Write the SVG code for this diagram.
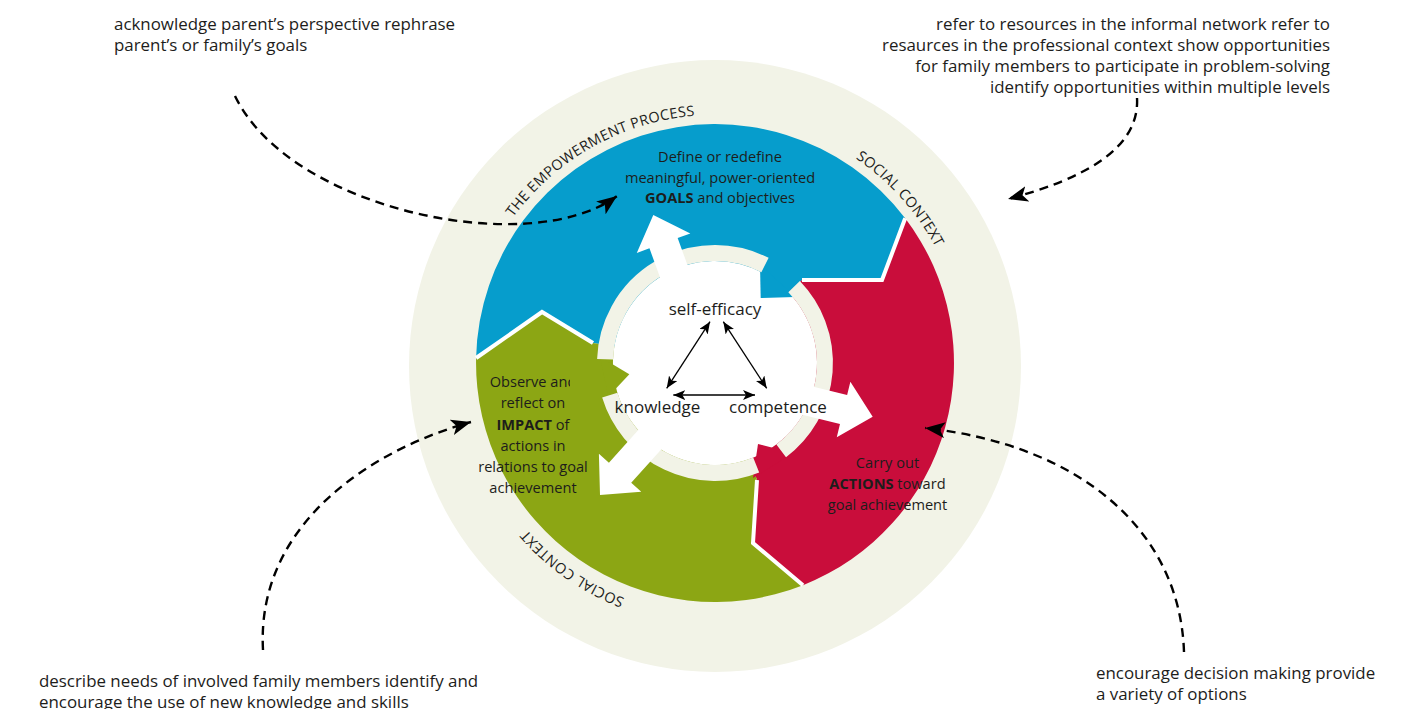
<svg xmlns="http://www.w3.org/2000/svg" width="1410" height="709" viewBox="0 0 1410 709">
  <style>
    text { font-family: "Open Sans", "Noto Sans", "DejaVu Sans", sans-serif; fill: #1d1d1b; }
    .note { font-size: 16.9px; }
    .band { font-size: 14.6px; text-anchor: middle; }
    .core { font-size: 17px; text-anchor: middle; }
    .ctx { font-size: 14.5px; letter-spacing: 0.3px; text-anchor: middle; }
    .strong { font-weight: 700; }
    .sep { fill: none; stroke: #fff; stroke-width: 4; stroke-linejoin: miter; }
    .ring { fill: none; stroke: #f2f3e7; stroke-width: 16; }
    .dash { fill: none; stroke: #000; stroke-width: 2.4; stroke-dasharray: 9 6; marker-end: url(#head); }
    .dbl { fill: none; stroke: #000; stroke-width: 1.3; marker-start: url(#tip); marker-end: url(#tip); }
  </style>
  <defs>
    <!-- broad white arrow, tip at the origin, pointing along +x -->
    <polygon id="wa" points="0,0 -30,-28.5 -30,-15 -95,-15 -95,15 -30,15 -30,28.5" fill="#fff"/>
    <marker id="head" viewBox="0 0 20 16" refX="20" refY="8" markerWidth="20" markerHeight="16" markerUnits="userSpaceOnUse" orient="auto">
      <path d="M0,0 L20,8 L0,16 L5,8 Z" fill="#000"/>
    </marker>
    <marker id="tip" viewBox="0 0 12 10" refX="12" refY="5" markerWidth="12" markerHeight="10" markerUnits="userSpaceOnUse" orient="auto-start-reverse">
      <path d="M0,0 L12,5 L0,10 L3,5 Z" fill="#000"/>
    </marker>
    <!-- baseline circle for the ring captions, clockwise from the bottom -->
    <path id="ctxPath" d="M715,615 A250,250 0 1 1 715,115 A250,250 0 1 1 715,615"/>
    <clipPath id="obsClip"><rect x="460" y="360" width="110" height="30"/></clipPath>
  </defs>

  <!-- social context disc -->
  <circle id="social-context" cx="715" cy="366" r="306" fill="#f2f3e7"/>
  <circle cx="715" cy="363" r="102" fill="#fff"/>

  <!-- the three stages of the cycle -->
  <g id="goals">
    <path d="M476.1,358 A239,239 0 0 1 905.2,218.3 L882,280 L802,280 L788.8,292.6 A102,102 0 0 0 614.3,346.5 L593,343 L542,312 Z" fill="#069dcc"/>
  </g>
  <g id="actions">
    <path d="M905.2,218.3 A239,239 0 0 1 803,585.2 L753,543 L757,480 L749.5,459 A102,102 0 0 0 788.8,292.6 L802,280 L882,280 Z" fill="#c90d3b"/>
  </g>
  <g id="impact">
    <path d="M803,585.2 A239,239 0 0 1 476.1,358 L542,312 L593,343 L614.3,346.5 A102,102 0 0 0 749.5,459 L757,480 L753,543 Z" fill="#8ca614"/>
  </g>

  <!-- white seams between the stages -->
  <g id="seams">
    <path class="sep" d="M476.1,358 L542,312 L593,343"/>
    <path class="sep" d="M905.2,218.3 L882,280 L802,280"/>
    <path class="sep" d="M803,585.2 L753,543 L757,480"/>
  </g>

  <!-- inward heads from each stage -->
  <g id="stage-heads">
    <polygon points="760,264 760.7,298 795,297" fill="#069dcc"/>
    <polygon points="758,444 793,453 753,478" fill="#c90d3b"/>
    <polygon points="629.3,374.3 600,356.7 608.3,396.7" fill="#8ca614"/>
  </g>

  <!-- inner light ring -->
  <g id="inner-ring">
    <path class="ring" d="M794.1,286.6 A110,110 0 0 1 781.2,450.8"/>
    <path class="ring" d="M756.2,465 A110,110 0 0 1 609.8,395.2"/>
    <path class="ring" d="M605.1,359.2 A110,110 0 0 1 765,265"/>
  </g>

  <!-- outward white arrows from the core -->
  <g id="core-arrows">
    <use href="#wa" transform="translate(653.3,215) rotate(250)"/>
    <use href="#wa" transform="translate(872.7,416.7) rotate(13.8)"/>
    <use href="#wa" transform="translate(600,495) rotate(132)"/>
  </g>

  <!-- stage labels -->
  <g id="goals-label">
    <text class="band" x="720" y="162">Define or redefine</text>
    <text class="band" x="720" y="183">meaningful, power-oriented</text>
    <text class="band" x="720" y="203"><tspan class="strong">GOALS</tspan> and objectives</text>
  </g>
  <g id="actions-label">
    <text class="band" x="887.5" y="468">Carry out</text>
    <text class="band" x="887.5" y="489"><tspan class="strong">ACTIONS</tspan> toward</text>
    <text class="band" x="887.5" y="510">goal achievement</text>
  </g>
  <g id="impact-label">
    <text class="band" x="533" y="387" clip-path="url(#obsClip)">Observe and</text>
    <text class="band" x="533" y="408">reflect on</text>
    <text class="band" x="533" y="430"><tspan class="strong">IMPACT</tspan> of</text>
    <text class="band" x="533" y="451">actions in</text>
    <text class="band" x="533" y="472">relations to goal</text>
    <text class="band" x="533" y="493">achievement</text>
  </g>

  <!-- captions around the ring -->
  <g id="ring-captions">
    <text class="ctx"><textPath href="#ctxPath" startOffset="657.6">THE EMPOWERMENT PROCESS</textPath></text>
    <text class="ctx"><textPath href="#ctxPath" startOffset="994.8">SOCIAL CONTEXT</textPath></text>
    <text class="ctx"><textPath href="#ctxPath" startOffset="152.7">SOCIAL CONTEXT</textPath></text>
  </g>

  <!-- core triad -->
  <g id="self-efficacy"><text class="core" x="715" y="315">self-efficacy</text></g>
  <g id="knowledge"><text class="core" x="657.5" y="413">knowledge</text></g>
  <g id="competence"><text class="core" x="778" y="413">competence</text></g>
  <g id="triad-links">
    <path class="dbl" d="M666.7,388.3 L710,321.7"/>
    <path class="dbl" d="M723.3,321.7 L766.7,388.3"/>
    <path class="dbl" d="M673.3,395 L755,395"/>
  </g>

  <!-- practitioner notes -->
  <g id="note-goals">
    <text class="note" x="114" y="30">acknowledge parent’s perspective rephrase</text>
    <text class="note" x="114" y="51">parent’s or family’s goals</text>
  </g>
  <g id="note-resources" text-anchor="end">
    <text class="note" x="1330" y="30">refer to resources in the informal network refer to</text>
    <text class="note" x="1330" y="51">resaurces in the professional context show opportunities</text>
    <text class="note" x="1330" y="72">for family members to participate in problem-solving</text>
    <text class="note" x="1330" y="93">identify opportunities within multiple levels</text>
  </g>
  <g id="note-needs">
    <text class="note" x="39" y="687">describe needs of involved family members identify and</text>
    <text class="note" x="39" y="708">encourage the use of new knowledge and skills</text>
  </g>
  <g id="note-decisions">
    <text class="note" x="1096" y="679">encourage decision making provide</text>
    <text class="note" x="1096" y="700">a variety of options</text>
  </g>

  <!-- dashed connectors from notes to stages -->
  <g id="connectors">
    <path class="dash" d="M235,96 C290,210 530,260 617,196"/>
    <path class="dash" d="M1137,98 C1140,150 1080,180 1008,199"/>
    <path class="dash" d="M263,650 C256,525 370,450 471,422"/>
    <path class="dash" d="M1184,652 C1180,530 1080,445 925,428"/>
  </g>
</svg>
